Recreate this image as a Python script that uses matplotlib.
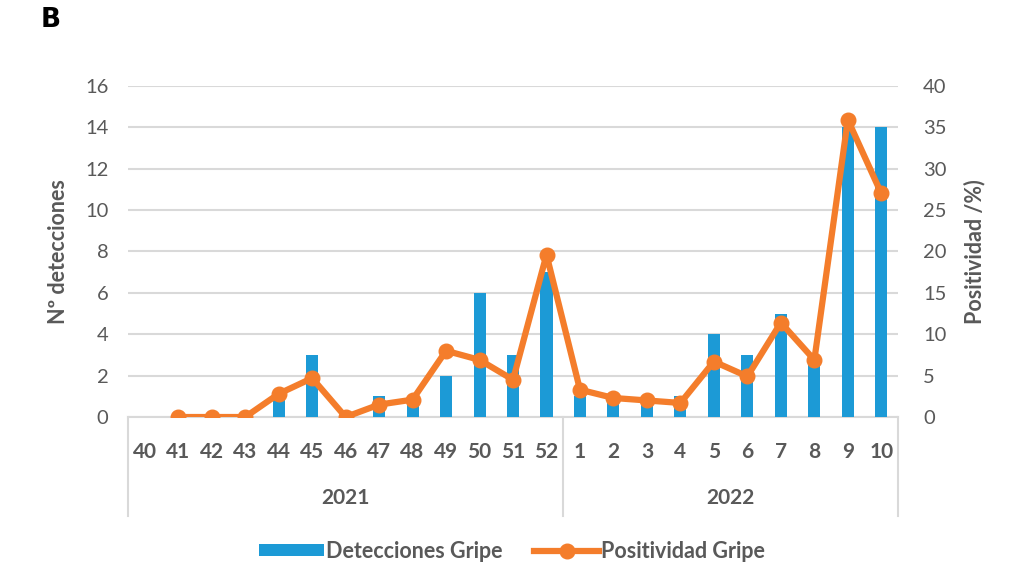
import matplotlib.pyplot as plt
import numpy as np

weeks = ["40", "41", "42", "43", "44", "45", "46", "47", "48", "49", "50", "51", "52",
         "1", "2", "3", "4", "5", "6", "7", "8", "9", "10"]
years = ["2021", "2022"]
year_counts = [13, 10]
detecciones = [0, 0, 0, 0, 1, 3, 0, 1, 1, 2, 6, 3, 7,
               1, 1, 1, 1, 4, 3, 5, 3, 14, 14]
positividad = [np.nan, 0, 0, 0, 2.8, 4.7, 0, 1.5, 2.1, 8.0, 6.9, 4.5, 19.6,
               3.3, 2.3, 2.0, 1.7, 6.7, 4.9, 11.4, 6.9, 35.9, 27.0]

blue = "#1C9AD6"
orange = "#F47D2B"
gray = "#595959"
grid_c = "#D9D9D9"
font = "Lato"

plt.rcParams['font.family'] = [font, 'DejaVu Sans']

fig = plt.figure(figsize=(10.24, 5.76), dpi=100)
ax = fig.add_axes([0.125, 0.276, 0.752, 0.575])
ax2 = ax.twinx()

x = np.arange(len(weeks))
bars = ax.bar(x, detecciones, width=0.36, color=blue, zorder=2, label="Detecciones Gripe")
line, = ax2.plot(x, positividad, color=orange, lw=4.5, marker="o", ms=10.5,
                 zorder=3, label="Positividad Gripe")

ax.set_xlim(-0.5, len(weeks) - 0.5)
ax.set_ylim(0, 16)
ax.set_yticks(np.arange(0, 17, 2))
ax2.set_ylim(0, 40)
ax2.set_yticks(np.arange(0, 41, 5))
ax.yaxis.grid(True, color=grid_c, lw=1.5, zorder=0)
ax.set_axisbelow(True)

for a in (ax, ax2):
    for s in a.spines.values():
        s.set_visible(False)
    a.tick_params(axis="y", length=0, labelsize=14.5, labelcolor=gray, pad=14)
ax2.tick_params(axis="y", pad=18)

ax.set_xticks(x)
ax.set_xticklabels(weeks, fontsize=15, fontweight="bold", color=gray)
ax.tick_params(axis="x", length=0, pad=18)

ax.set_ylabel("Nº detecciones", fontsize=15.5, fontweight="bold", color=gray, labelpad=12)
ax2.set_ylabel("Positividad /%)", fontsize=15.5, fontweight="bold", color=gray, labelpad=12)

# hierarchical category axis
tr = ax.get_xaxis_transform()
ax.plot([-0.5, len(weeks) - 0.5], [0, 0], transform=tr, color=grid_c, lw=1.5, clip_on=False, zorder=1)
start = -0.5
for yr, n in zip(years, year_counts):
    ax.plot([start, start], [0, -0.3], transform=tr, color=grid_c, lw=1.5, clip_on=False)
    ax.text(start + n / 2, -0.245, yr, transform=tr, ha="center", va="center",
            fontsize=15, fontweight="bold", color=gray)
    start += n
ax.plot([start, start], [0, -0.3], transform=tr, color=grid_c, lw=1.5, clip_on=False)

leg = fig.legend([bars, line], ["Detecciones Gripe", "Positividad Gripe"], loc="center",
                 bbox_to_anchor=(0.5, 0.043), ncol=2, frameon=False,
                 handlelength=3.0, handleheight=0.5, columnspacing=1.5, handletextpad=0.1,
                 prop={"family": font, "weight": "bold", "size": 15.5})
for t in leg.get_texts():
    t.set_color(gray)

fig.text(0.04, 0.965, "B", fontsize=19, fontweight="bold", color="black",
         family="DejaVu Sans", va="center")

fig.savefig("out.png", dpi=100)
